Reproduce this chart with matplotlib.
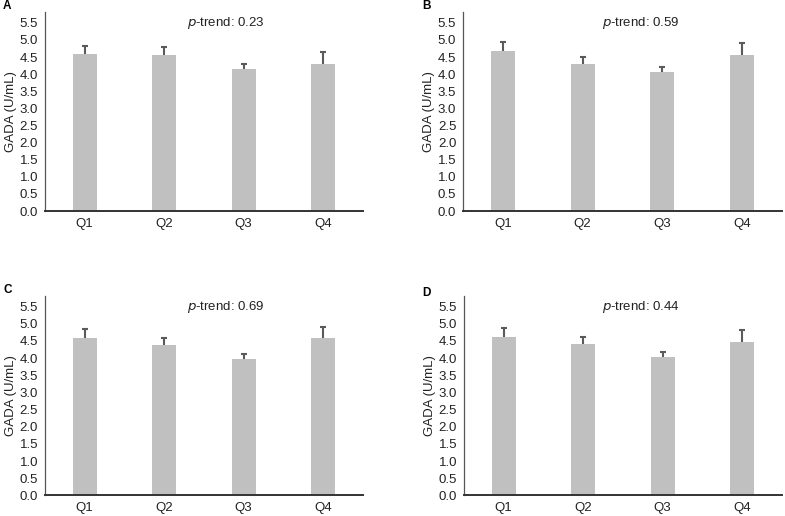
import matplotlib
matplotlib.use("Agg")
import matplotlib.pyplot as plt

plt.rcParams.update({"font.family": ["Liberation Sans", "DejaVu Sans"]})
plt.rcParams.update({"font.size": 9.5})

quartiles = ["Q1", "Q2", "Q3", "Q4"]
panels = ["A", "B", "C", "D"]
p_trends = ["0.23", "0.59", "0.69", "0.44"]

# bar heights and the upper end of each error bar, per panel
means_a = [4.58, 4.57, 4.15, 4.30]
upper_a = [4.83, 4.78, 4.31, 4.64]
means_b = [4.69, 4.30, 4.07, 4.56]
upper_b = [4.94, 4.51, 4.20, 4.92]
means_c = [4.60, 4.37, 3.96, 4.60]
upper_c = [4.85, 4.58, 4.11, 4.92]
means_d = [4.61, 4.40, 4.04, 4.47]
upper_d = [4.87, 4.62, 4.18, 4.81]

yticks = [0.0, 0.5, 1.0, 1.5, 2.0, 2.5, 3.0, 3.5, 4.0, 4.5, 5.0, 5.5]

all_means = [means_a, means_b, means_c, means_d]
all_upper = [upper_a, upper_b, upper_c, upper_d]

# axes rectangles in figure fractions
positions = [
    [0.0573, 0.591, 0.405, 0.386],
    [0.590, 0.591, 0.406, 0.386],
    [0.0573, 0.040, 0.405, 0.387],
    [0.591, 0.040, 0.405, 0.387],
]
text_x = [1.77, 1.73, 1.77, 1.73]
# panel letter positions in pixels from the top-left corner
letter_px = [(3, 6), (422, 6), (3, 290), (422, 293)]

fig = plt.figure(figsize=(7.85, 5.16), dpi=100)

for i in range(4):
    ax = fig.add_axes(positions[i])
    x = list(range(len(quartiles)))
    means = all_means[i]
    err = [u - m for u, m in zip(all_upper[i], means)]
    ax.bar(x, means, width=0.3, color="#c0c0c0", zorder=2)
    eb = ax.errorbar(x, means, yerr=[[0] * 4, err], fmt="none", ecolor="#5a5a5a",
                     elinewidth=1.5, capsize=2.5, capthick=1.5, zorder=3)
    # only the upper cap is drawn in the original
    eb[1][0].set_visible(False)
    ax.set_xlim(-0.5, 3.5)
    ax.set_ylim(0, 5.82)
    ax.set_yticks(yticks)
    ax.set_yticklabels(["%.1f" % v for v in yticks])
    ax.set_xticks(x)
    ax.set_xticklabels(quartiles)
    ax.tick_params(length=0, pad=5, colors="#222222", labelsize=9.5)
    ax.tick_params(axis="x", pad=5)
    ax.set_ylabel("GADA (U/mL)", fontsize=9.5, color="#222222", labelpad=2)
    for s in ["top", "right"]:
        ax.spines[s].set_visible(False)
    ax.spines["left"].set_color("#555555")
    ax.spines["left"].set_linewidth(0.9)
    ax.spines["bottom"].set_color("#333333")
    ax.spines["bottom"].set_linewidth(1.4)
    ax.text(text_x[i], 5.5, "$\\it{p}$-trend: " + p_trends[i], ha="center", va="center",
            fontsize=9.5, color="#222222")
    lx, ly = letter_px[i]
    fig.text(lx / 785, 1 - ly / 516, panels[i], fontsize=8.5,
             fontweight="bold", ha="left", va="center")

fig.savefig("out.png", dpi=100)
